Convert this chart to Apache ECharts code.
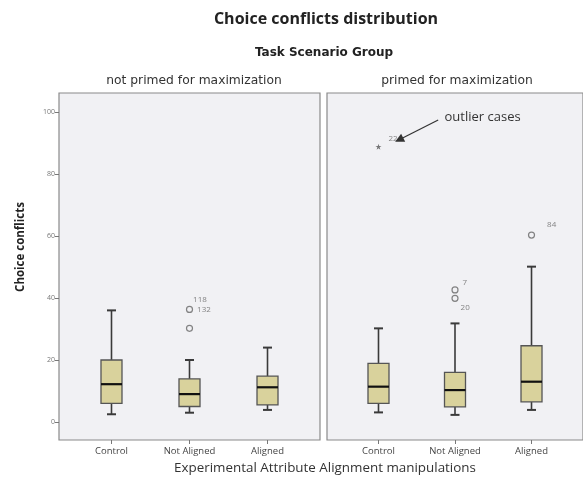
<!DOCTYPE html>
<html><head><meta charset="utf-8">
<script src="https://cdn.jsdelivr.net/npm/echarts@6/dist/echarts.min.js"></script>
<style>html,body{margin:0;padding:0;background:#fff}#c{width:583px;height:480px}</style>
</head><body><div id="c"></div>
<script>
// ---- data ----
const categories = ['Control', 'Not Aligned', 'Aligned'];
const panelNames = ['not primed for maximization', 'primed for maximization'];
const yTicks = [0, 20, 40, 60, 80, 100];
// [min, Q1, median, Q3, max]
const boxesNotPrimed = [[2.5, 6, 12.2, 20, 36], [3, 5, 9, 13.9, 20], [3.9, 5.5, 11.2, 14.8, 24]];
const boxesPrimed = [[3.1, 6, 11.4, 18.9, 30.2], [2.3, 4.9, 10.3, 16, 31.8], [3.9, 6.5, 13, 24.6, 50.1]];
// [category index, value, case label]
const outliersNotPrimed = [[1, 36.3, '118'], [1, 30.2, '132']];
const outliersPrimed = [[1, 42.6, '7'], [1, 39.9, '20'], [2, 60.3, '84']];
const extremesPrimed = [[0, 88.8, '22']];
const annotationText = 'outlier cases';

// ---- styles ----
const labelOffsets = { '118': [-5, -10], '132': [-1, -19], '7': [-1, -7], '20': [-3, 9], '84': [7, -10], '22': [2, -8] };
const FONT = 'Open Sans';
const boxFill = '#d9d29c';
const boxStroke = '#555';

function boxSeries(boxes, gi) {
  return {
    type: 'custom', xAxisIndex: gi, yAxisIndex: gi, silent: true, z: 3,
    data: boxes.map((b, i) => [i].concat(b)),
    renderItem: function (params, api) {
      const x = api.value(0);
      const pMin = api.coord([x, api.value(1)]);
      const pQ1 = api.coord([x, api.value(2)]);
      const pMed = api.coord([x, api.value(3)]);
      const pQ3 = api.coord([x, api.value(4)]);
      const pMax = api.coord([x, api.value(5)]);
      const hw = 10.5, cw = 4.5;
      const cx = pMin[0];
      const wl = { stroke: '#3a3a3a', lineWidth: 1.6 };
      return {
        type: 'group', children: [
          { type: 'line', shape: { x1: cx, y1: pMin[1], x2: cx, y2: pQ1[1] }, style: wl },
          { type: 'line', shape: { x1: cx, y1: pQ3[1], x2: cx, y2: pMax[1] }, style: wl },
          { type: 'line', shape: { x1: cx - cw, y1: pMin[1], x2: cx + cw, y2: pMin[1] }, style: { stroke: '#3a3a3a', lineWidth: 2 } },
          { type: 'line', shape: { x1: cx - cw, y1: pMax[1], x2: cx + cw, y2: pMax[1] }, style: { stroke: '#3a3a3a', lineWidth: 2 } },
          { type: 'rect', shape: { x: cx - hw, y: pQ3[1], width: 2 * hw, height: pQ1[1] - pQ3[1] }, style: { fill: boxFill, stroke: boxStroke, lineWidth: 1.3 } },
          { type: 'line', shape: { x1: cx - hw, y1: pMed[1], x2: cx + hw, y2: pMed[1] }, style: { stroke: '#111', lineWidth: 2.2 } }
        ]
      };
    }
  };
}

function pointSeries(points, gi, symbol, size) {
  return {
    type: 'scatter', xAxisIndex: gi, yAxisIndex: gi, silent: true, z: 4,
    symbol: symbol, symbolSize: size,
    itemStyle: symbol === 'circle' ? { color: 'transparent', borderColor: '#666', borderWidth: 1.2 } : { color: '#555' },
    data: points.map(p => ({
      value: [p[0], p[1]], name: p[2],
      label: { show: true, formatter: p[2], position: 'right', offset: labelOffsets[p[2]] || [0, 0], fontSize: 8, color: '#666', fontFamily: FONT }
    }))
  };
}

const starPath = 'path://M0,-1L0.22,-0.31L0.95,-0.31L0.36,0.12L0.59,0.81L0,0.38L-0.59,0.81L-0.36,0.12L-0.95,-0.31L-0.22,-0.31Z';

function xAxis(gi) {
  return {
    type: 'value', gridIndex: gi, min: -0.673, max: 2.673,
    splitLine: { show: false },
    axisLine: { show: false, onZero: false },
    axisTick: { show: true, customValues: [0, 1, 2], length: 4, lineStyle: { color: '#777' } },
    axisLabel: { customValues: [0, 1, 2], formatter: v => categories[Math.round(v)], fontSize: 9.5, color: '#444', fontFamily: FONT, margin: 6 }
  };
}
function yAxis(gi) {
  const base = {
    type: 'value', gridIndex: gi, min: -5.8, max: 106.1,
    splitLine: { show: false }, axisLine: { show: false, onZero: false }
  };
  if (gi === 0) {
    Object.assign(base, {
      axisTick: { show: true, customValues: yTicks, length: 4, lineStyle: { color: '#777' } },
      axisLabel: { customValues: yTicks, fontSize: 7, color: '#777', fontFamily: FONT, margin: 4 }
    });
  } else {
    Object.assign(base, { axisTick: { show: false }, axisLabel: { show: false } });
  }
  return base;
}

const chart = echarts.init(document.getElementById('c'));
const gridStyle = { show: true, backgroundColor: '#f1f1f4', borderColor: '#8a8a8a', borderWidth: 1.2 };
chart.setOption({
  backgroundColor: '#ffffff',
  animation: false,
  grid: [
    Object.assign({ left: 59, top: 93, width: 261, height: 347 }, gridStyle),
    Object.assign({ left: 327, top: 93, width: 261, height: 347 }, gridStyle)
  ],
  xAxis: [xAxis(0), xAxis(1)],
  yAxis: [yAxis(0), yAxis(1)],
  graphic: [
    { type: 'text', x: 326, y: 19, style: { text: 'Choice conflicts distribution', align: 'center', verticalAlign: 'middle', fontSize: 16, fontWeight: 'bold', fill: '#222', fontFamily: FONT } },
    { type: 'text', x: 324, y: 53, style: { text: 'Task Scenario Group', align: 'center', verticalAlign: 'middle', fontSize: 12, fontWeight: 'bold', fill: '#222', fontFamily: 'DejaVu Sans' } },
    { type: 'text', x: 194, y: 81, style: { text: panelNames[0], align: 'center', verticalAlign: 'middle', fontSize: 12.3, fill: '#333', fontFamily: 'DejaVu Sans' } },
    { type: 'text', x: 457, y: 81, style: { text: panelNames[1], align: 'center', verticalAlign: 'middle', fontSize: 12.3, fill: '#333', fontFamily: 'DejaVu Sans' } },
    { type: 'text', x: 325, y: 468, style: { text: 'Experimental Attribute Alignment manipulations', align: 'center', verticalAlign: 'middle', fontSize: 13.4, fill: '#333', fontFamily: FONT } },
    { type: 'text', x: 21, y: 247, rotation: Math.PI / 2, style: { text: 'Choice conflicts', align: 'center', verticalAlign: 'middle', fontSize: 11.5, fontWeight: 'bold', fill: '#222', fontFamily: FONT } }
  ],
  series: [
    boxSeries(boxesNotPrimed, 0),
    boxSeries(boxesPrimed, 1),
    pointSeries(outliersNotPrimed, 0, 'circle', 6),
    pointSeries(outliersPrimed, 1, 'circle', 6),
    Object.assign(pointSeries(extremesPrimed, 1, starPath, 6), {
      markLine: {
        silent: true, symbol: ['none', 'triangle'], symbolSize: 9,
        lineStyle: { color: '#333', type: 'solid', width: 1.2 },
        itemStyle: { color: '#333' },
        label: { show: false },
        data: [[{ coord: [0.78, 97.4] }, { coord: [0.27, 91] }]]
      },
      markPoint: {
        silent: true, symbol: 'circle', symbolSize: 0,
        label: { show: true, position: 'right', formatter: annotationText, fontSize: 13, color: '#333', fontFamily: FONT, offset: [-4, 1] },
        data: [{ coord: [0.85, 98.6] }]
      }
    })
  ]
});
</script></body></html>
